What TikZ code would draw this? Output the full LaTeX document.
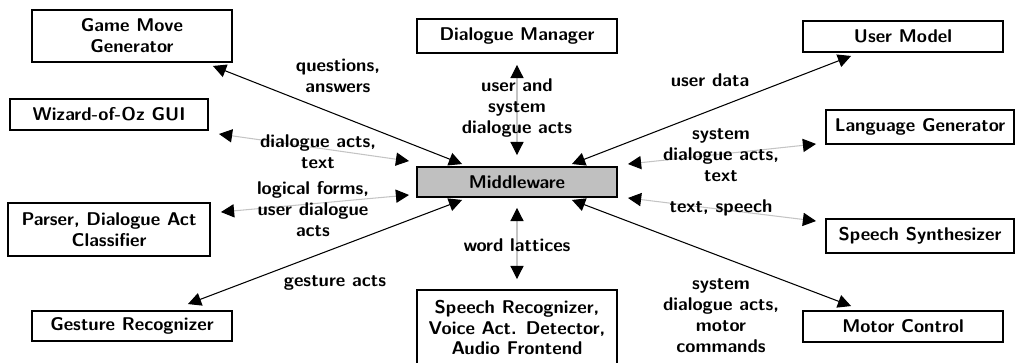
\documentclass[tikz,border=0pt]{standalone}
\usepackage{tikz}
\usetikzlibrary{positioning}
\usetikzlibrary{arrows.meta}
\definecolor{hub-fill}{HTML}{C0C0C0}
\definecolor{soft-line}{HTML}{C4C4C4}
\tikzset{box/.style={draw, line width=1.1pt, align=center, inner sep=2pt}}
\tikzset{hub/.style={box, fill=hub-fill}}

\begin{document}
\begin{tikzpicture}[
    x=0.02cm, y=-0.02cm,
    font=\fontsize{10.5}{11.9}\selectfont\sffamily\bfseries,
    >={Triangle[length=7.5pt, width=7.5pt, color=black]}
  ]

  % Link and label styles
  \tikzset{
    link/.style={<->, line width=0.6pt},
    softlink/.style={link, draw=soft-line},
    lbl/.style={align=center, inner sep=0pt}
  }

  \useasboundingbox (0,0) rectangle (1016,362);

  % Middleware in the centre
  \node (mw) [hub, minimum width=4cm, minimum height=0.6cm] at (517,182) {Middleware};

  % Left column
  \node (gmg) [box, minimum width=4cm, minimum height=1.04cm] at (132,36) {Game Move\\Generator};
  \node (woz) [box, minimum width=3.96cm, minimum height=0.62cm] at (109,114.5) {Wizard-of-Oz GUI};
  \node (pdac) [box, minimum width=4.04cm, minimum height=1.06cm] at (109,229.5) {Parser, Dialogue Act\\Classifier};
  \node (ges) [box, minimum width=4cm, minimum height=0.6cm] at (132,326) {Gesture Recognizer};

  % Middle column
  \node (dm) [box, minimum width=4cm, minimum height=0.68cm] at (517,36) {Dialogue Manager};
  \node (sr) [box, minimum width=4cm, minimum height=1.5cm] at (517,327.5) {Speech Recognizer,\\Voice Act. Detector,\\Audio Frontend};

  % Right column
  \node (um) [box, minimum width=4cm, minimum height=0.62cm] at (903,36.5) {User Model};
  \node (lg) [box, minimum width=3.76cm, minimum height=0.68cm] at (920,127) {Language Generator};
  \node (ss) [box, minimum width=3.76cm, minimum height=0.68cm] at (920,236) {Speech Synthesizer};
  \node (mc) [box, minimum width=4cm, minimum height=0.62cm] at (903,326.5) {Motor Control};

  % Connections to the middleware
  \draw[link] ([shift={(-20,3)}]gmg.south east) -- ([shift={(46,-2)}]mw.north west);
  \draw[softlink] ([shift={(10,3)}]woz.south east) -- ([shift={(-7,-5)}]mw.north west);
  \draw[softlink] ([shift={(10,10)}]pdac.north east) -- ([shift={(-7,-3)}]mw.south west);
  \draw[link] ([shift={(-45,-6)}]ges.north east) -- ([shift={(46,2)}]mw.south west);
  \draw[softlink] ([shift={(0,11)}]dm.south) -- ([shift={(0,-11)}]mw.north);
  \draw[softlink] ([shift={(0,-10)}]sr.north) -- ([shift={(0,10)}]mw.south);
  \draw[link] ([shift={(49,3)}]um.south west) -- ([shift={(-46,-2)}]mw.north east);
  \draw[softlink] ([shift={(-9,-1)}]lg.south west) -- ([shift={(10,-2)}]mw.north east);
  \draw[softlink] ([shift={(-9,3)}]ss.north west) -- ([shift={(10,0)}]mw.south east);
  \draw[link] ([shift={(49,-4)}]mc.north west) -- ([shift={(-46,2)}]mw.south east);

  % Labels on the links
  \node (lgmg) [lbl] at (338,76) {questions,\\answers};
  \node (lwoz) [lbl] at (318,152) {dialogue acts,\\text};
  \node (lpdac) [lbl] at (313,209) {logical forms,\\user dialogue\\acts};
  \node (lges) [lbl] at (335,283) {gesture acts};
  \node (ldm) [lbl] at (517,108) {user and\\system\\dialogue acts};
  \node (lsr) [lbl] at (517,245) {word lattices};
  \node (lum) [lbl] at (710,80) {user data};
  \node (llg) [lbl] at (721,155) {system\\dialogue acts,\\text};
  \node (lss) [lbl] at (721,208) {text, speech};
  \node (lmc) [lbl] at (721,316) {system\\dialogue acts,\\motor\\commands};

\end{tikzpicture}
\end{document}
